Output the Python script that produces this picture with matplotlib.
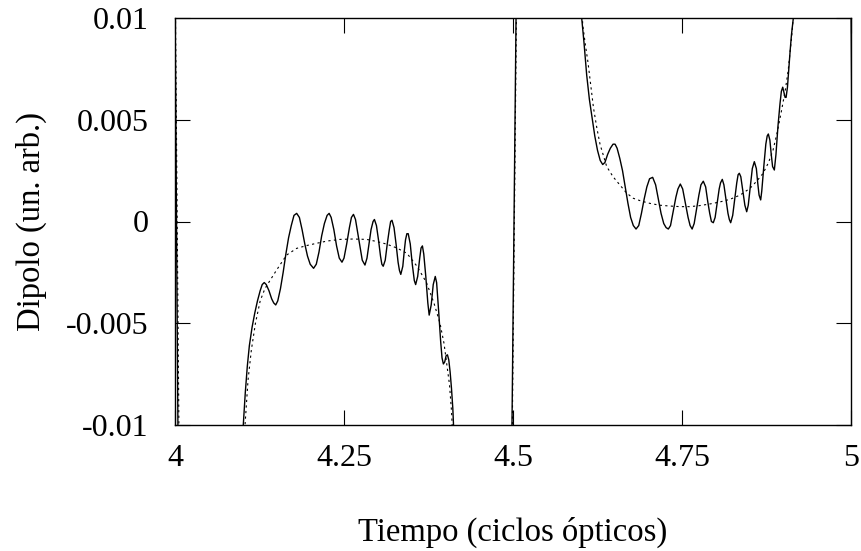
import matplotlib
matplotlib.use("Agg")
import matplotlib.pyplot as plt
import numpy as np

# dipolo completo (linea continua)
t_full = [
    3.998, 4.0, 4.0045, 4.006, 4.097, 4.100,
    4.101, 4.104, 4.107, 4.110, 4.114, 4.118, 4.122, 4.126, 4.129, 4.132,
    4.135, 4.139, 4.143, 4.146, 4.149, 4.152, 4.156, 4.160, 4.164, 4.168,
    4.172, 4.176, 4.180, 4.184, 4.188, 4.192, 4.196, 4.200, 4.205, 4.209,
    4.213, 4.217, 4.221, 4.225, 4.228, 4.231, 4.235, 4.239, 4.243, 4.247,
    4.250, 4.254, 4.258, 4.261, 4.264, 4.267, 4.270, 4.274, 4.277, 4.281,
    4.284, 4.287, 4.290, 4.293, 4.295, 4.298, 4.301, 4.304, 4.306, 4.308,
    4.311, 4.314, 4.317, 4.319, 4.321, 4.324, 4.327, 4.330, 4.332, 4.334,
    4.337, 4.339, 4.341, 4.343, 4.345, 4.348, 4.351, 4.354, 4.356, 4.359,
    4.362, 4.364, 4.366, 4.368, 4.371, 4.374, 4.376, 4.379, 4.382, 4.385,
    4.387, 4.390, 4.393, 4.395, 4.397, 4.399, 4.401, 4.403, 4.405, 4.407,
    4.409, 4.411, 4.412, 4.414, 4.420,
    4.4955, 4.5075, 4.598, 4.6005,
    4.6016, 4.605, 4.609, 4.613, 4.617, 4.621, 4.625, 4.629, 4.6327, 4.636,
    4.640, 4.644, 4.648, 4.651, 4.654, 4.658, 4.662, 4.666, 4.670, 4.674,
    4.678, 4.682, 4.686, 4.690, 4.694, 4.698, 4.702, 4.7066, 4.711, 4.715,
    4.719, 4.723, 4.7265, 4.7298, 4.733, 4.737, 4.741, 4.744, 4.7475, 4.751,
    4.755, 4.759, 4.762, 4.765, 4.768, 4.772, 4.775, 4.778, 4.7815, 4.785,
    4.788, 4.791, 4.7935, 4.7963, 4.799, 4.802, 4.805, 4.807, 4.8096, 4.812,
    4.815, 4.818, 4.820, 4.822, 4.825, 4.828, 4.831, 4.833, 4.8348, 4.837,
    4.840, 4.843, 4.8457, 4.848, 4.851, 4.854, 4.857, 4.860, 4.862, 4.864,
    4.8664, 4.868, 4.871, 4.874, 4.876, 4.8777, 4.880, 4.882, 4.884, 4.8866,
    4.889, 4.892, 4.895, 4.897, 4.899, 4.901, 4.9025, 4.904, 4.906, 4.908,
    4.910, 4.912, 4.9147, 4.917, 4.922,
    4.997, 5.0, 5.0045,
]
d_full = [
    0.02, 0.011, -0.011, -0.02, -0.02, -0.0115,
    -0.0100, -0.0084, -0.0071, -0.0061, -0.0052, -0.0045, -0.0039, -0.0034, -0.0031, -0.0030,
    -0.0031, -0.0034, -0.0038, -0.0040, -0.0041, -0.0039, -0.0033, -0.0025, -0.0016, -0.0008,
    -0.0002, 0.0003, 0.0004, 0.0002, -0.0004, -0.0011, -0.0017, -0.0021, -0.0023, -0.0021,
    -0.0015, -0.0007, -0.0001, 0.0003, 0.0004, 0.0002, -0.0004, -0.0012, -0.0018, -0.0020,
    -0.0018, -0.0011, -0.0003, 0.0002, 0.00035, 0.0001, -0.0005, -0.0013, -0.0019, -0.00214,
    -0.0018, -0.0011, -0.0004, 0.0000, 0.0001, -0.0002, -0.0009, -0.0017, -0.0021, -0.0022,
    -0.0019, -0.0011, -0.0004, -0.0000, 0.00006, -0.0003, -0.0011, -0.0020, -0.0024, -0.0026,
    -0.0022, -0.0015, -0.0009, -0.0006, -0.0006, -0.0011, -0.0021, -0.0029, -0.0031, -0.0027,
    -0.0018, -0.0013, -0.0012, -0.0016, -0.0027, -0.0040, -0.0046, -0.0041, -0.0031, -0.0027,
    -0.0030, -0.0044, -0.0059, -0.0067, -0.0070, -0.0069, -0.0066, -0.00655, -0.0068, -0.0074,
    -0.0082, -0.0092, -0.0100, -0.012, -0.02,
    -0.02, 0.02, 0.02, 0.0115,
    0.0100, 0.0088, 0.0072, 0.0060, 0.0051, 0.0042, 0.0035, 0.0030, 0.0028, 0.0029,
    0.0033, 0.0036, 0.0038, 0.0038, 0.0036, 0.0031, 0.0025, 0.0017, 0.0009, 0.0002,
    -0.0002, -0.00037, -0.0002, 0.0004, 0.0011, 0.0017, 0.0021, 0.00217, 0.0018, 0.0011,
    0.0004, -0.0001, -0.0003, -0.00037, -0.0002, 0.0005, 0.0012, 0.0016, 0.00184, 0.0016,
    0.0009, 0.0002, -0.0002, -0.00037, -0.0001, 0.0007, 0.0013, 0.0018, 0.00198, 0.0017,
    0.0010, 0.0004, 0.0000, -0.00006, 0.0002, 0.0009, 0.0016, 0.0019, 0.00207, 0.0018,
    0.0011, 0.0004, 0.0001, -0.00006, 0.0003, 0.0011, 0.0019, 0.0023, 0.00237, 0.0022,
    0.0015, 0.0008, 0.00048, 0.0008, 0.0017, 0.0026, 0.00294, 0.0026, 0.0019, 0.0013,
    0.00106, 0.0015, 0.0027, 0.0038, 0.0042, 0.0043, 0.0040, 0.0033, 0.0027, 0.00253,
    0.0033, 0.0047, 0.0058, 0.0064, 0.0066, 0.0063, 0.0061, 0.0061, 0.0066, 0.0075,
    0.0084, 0.0092, 0.0100, 0.012, 0.02,
    0.02, 0.011, -0.011,
]

# modelo suavizado (linea punteada)
t_smooth = [
    3.998, 4.0005, 4.006, 4.008, 4.100, 4.1025, 4.1036, 4.108, 4.113, 4.119,
    4.126, 4.133, 4.1405, 4.150, 4.165, 4.180, 4.195, 4.2096, 4.225, 4.244,
    4.264, 4.2836, 4.298, 4.313, 4.328, 4.343, 4.358, 4.372, 4.383, 4.392,
    4.398, 4.402, 4.406, 4.409, 4.410, 4.412, 4.418, 4.496, 4.508, 4.599,
    4.602, 4.603, 4.607, 4.611, 4.615, 4.619, 4.624, 4.6287, 4.6386, 4.648,
    4.658, 4.668, 4.678, 4.690, 4.7027, 4.717, 4.732, 4.747, 4.7618, 4.776,
    4.791, 4.806, 4.821, 4.836, 4.8506, 4.861, 4.870, 4.878, 4.8846, 4.891,
    4.8975, 4.903, 4.907, 4.9123, 4.9145, 4.917, 4.922, 4.997, 5.0005, 5.006,
]
d_smooth = [
    0.02, 0.011, -0.011, -0.02, -0.02, -0.0115, -0.0100, -0.0078, -0.0063, -0.0050,
    -0.0039, -0.0033, -0.0029, -0.0024, -0.00165, -0.00132, -0.00118, -0.00107, -0.00096, -0.00088,
    -0.00086, -0.00088, -0.00098, -0.00111, -0.00130, -0.00156, -0.0022, -0.0030, -0.0040, -0.0050,
    -0.0060, -0.0070, -0.0080, -0.0093, -0.0100, -0.012, -0.02, -0.02, 0.02, 0.02,
    0.0115, 0.0097, 0.0087, 0.0078, 0.0067, 0.0056, 0.0046, 0.0038, 0.0027, 0.0022,
    0.0018, 0.0014, 0.00114, 0.0010, 0.00089, 0.0008, 0.00076, 0.00073, 0.00073, 0.00078,
    0.00086, 0.00096, 0.00109, 0.0013, 0.00163, 0.0020, 0.00237, 0.0029, 0.0035, 0.0044,
    0.0055, 0.0065, 0.0074, 0.0091, 0.0100, 0.012, 0.02, 0.02, 0.011, -0.011,
]

x_ticks = [4, 4.25, 4.5, 4.75, 5]
x_tick_labels = ["4", "4.25", "4.5", "4.75", "5"]
y_ticks = [-0.01, -0.005, 0, 0.005, 0.01]
y_tick_labels = ["-0.01", "-0.005", "0", "0.005", "0.01"]

plt.rcParams["font.family"] = ["Liberation Serif", "DejaVu Serif"]

fig = plt.figure(figsize=(8.62, 5.51), dpi=100)
ax = fig.add_axes([175 / 862, 1 - 425 / 551, 676 / 862, 407 / 551])

ax.plot(np.array(t_full), np.array(d_full), "-", color="black", lw=1.0)
ax.plot(np.array(t_smooth), np.array(d_smooth), color="black", lw=0.8,
        linestyle=(0, (2.0, 3.0)))

ax.set_xlim(4, 5)
ax.set_ylim(-0.01, 0.01)
ax.set_xticks(x_ticks)
ax.set_xticklabels(x_tick_labels)
ax.set_yticks(y_ticks)
ax.set_yticklabels(y_tick_labels)
ax.tick_params(direction="in", length=10.5, width=0.8, top=True, right=True,
               labelsize=23)
ax.tick_params(axis="x", pad=14)
ax.tick_params(axis="y", pad=19)
for sp in ax.spines.values():
    sp.set_linewidth(1.0)

ax.set_xlabel("Tiempo (ciclos ópticos)", fontsize=23.5, labelpad=31)
ax.set_ylabel("Dipolo (un. arb.)", fontsize=23.5, labelpad=14)

fig.savefig("out.png", dpi=100)
